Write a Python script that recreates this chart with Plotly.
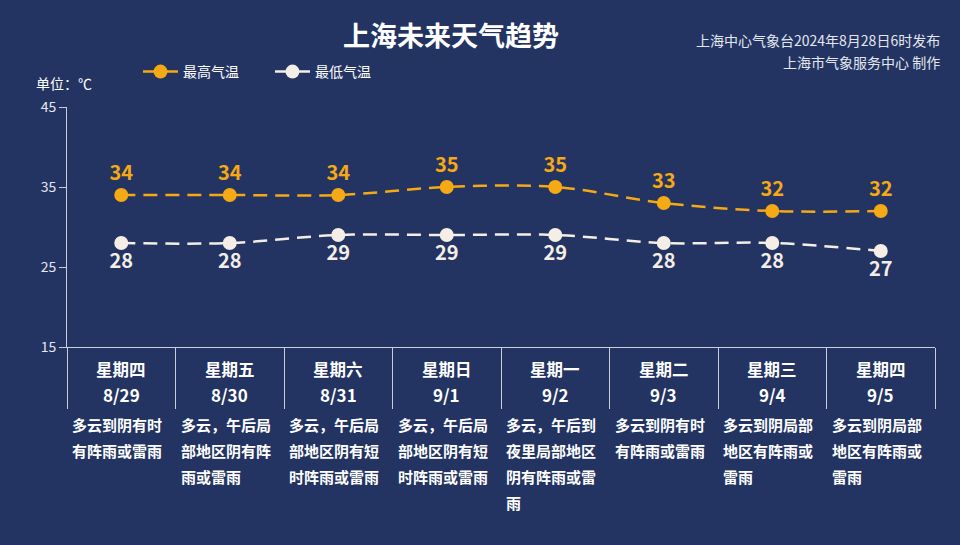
import plotly.graph_objects as go

# forecast data
days = ["星期四", "星期五", "星期六", "星期日", "星期一", "星期二", "星期三", "星期四"]
dates = ["8/29", "8/30", "8/31", "9/1", "9/2", "9/3", "9/4", "9/5"]
high_temp = [34, 34, 34, 35, 35, 33, 32, 32]
low_temp = [28, 28, 29, 29, 29, 28, 28, 27]
weather = [
    ["多云到阴有时", "有阵雨或雷雨"],
    ["多云，午后局", "部地区阴有阵", "雨或雷雨"],
    ["多云，午后局", "部地区阴有短", "时阵雨或雷雨"],
    ["多云，午后局", "部地区阴有短", "时阵雨或雷雨"],
    ["多云，午后到", "夜里局部地区", "阴有阵雨或雷", "雨"],
    ["多云到阴有时", "有阵雨或雷雨"],
    ["多云到阴局部", "地区有阵雨或", "雷雨"],
    ["多云到阴局部", "地区有阵雨或", "雷雨"],
]
y_ticks = [15, 25, 35, 45]

BG = "#233462"
ORANGE = "#F5A914"
WHITE = "#F4EEE6"
AXIS = "#C9CEDB"
FONT = "Noto Sans CJK SC"

x = list(range(len(days)))

fig = go.Figure()
fig.add_trace(
    go.Scatter(
        x=x,
        y=high_temp,
        name="最高气温",
        mode="lines+markers+text",
        line=dict(color=ORANGE, width=2.5, dash="14px,8px", shape="spline"),
        marker=dict(size=14, color=ORANGE),
        text=[str(v) for v in high_temp],
        textposition="top center",
        textfont=dict(family=FONT, size=20, color=ORANGE, weight="bold"),
    )
)
fig.add_trace(
    go.Scatter(
        x=x,
        y=low_temp,
        name="最低气温",
        mode="lines+markers+text",
        line=dict(color=WHITE, width=2.5, dash="14px,8px", shape="spline"),
        marker=dict(size=14, color=WHITE),
        text=[str(v) for v in low_temp],
        textposition="bottom center",
        textfont=dict(family=FONT, size=20, color=WHITE, weight="bold"),
    )
)

# plot area runs from y=107px to y=347px (240px high), x from 67px to 935px
def py(pixel):
    return (347 - pixel) / 240

def px_(pixel):
    return (pixel - 67) / 868

annotations = []
for i in x:
    annotations.append(dict(x=i, y=py(369), xref="x", yref="paper", text=days[i],
                            showarrow=False, yanchor="middle",
                            font=dict(family=FONT, size=16.5, color="white", weight="bold")))
    annotations.append(dict(x=i, y=py(394), xref="x", yref="paper", text=dates[i],
                            showarrow=False, yanchor="middle",
                            font=dict(family=FONT, size=17, color="white", weight="bold")))
    for j, line in enumerate(weather[i]):
        annotations.append(dict(x=i - 0.5, y=py(424 + 26 * j), xref="x", yref="paper",
                                text=line, showarrow=False, xanchor="left", xshift=3,
                                yanchor="middle",
                                font=dict(family=FONT, size=15, color="white", weight="bold")))

# top notes
annotations.append(dict(x=px_(942), y=py(40), xref="paper", yref="paper",
                        text="上海中心气象台2024年8月28日6时发布",
                        showarrow=False, xanchor="right", yanchor="middle",
                        font=dict(family=FONT, size=14, color="#E4E7EF")))
annotations.append(dict(x=px_(942), y=py(62), xref="paper", yref="paper",
                        text="上海市气象服务中心 制作",
                        showarrow=False, xanchor="right", yanchor="middle",
                        font=dict(family=FONT, size=14, color="#E4E7EF")))
annotations.append(dict(x=px_(34), y=py(83), xref="paper", yref="paper", text="单位：℃",
                        showarrow=False, xanchor="left", yanchor="middle",
                        font=dict(family=FONT, size=14, color="white")))

fig.update_layout(
    width=960,
    height=545,
    paper_bgcolor=BG,
    plot_bgcolor=BG,
    margin=dict(l=67, r=25, t=107, b=198),
    title=dict(text="<b>上海未来天气趋势</b>", x=451 / 960, xanchor="center",
               y=1 - 37 / 545, yanchor="middle",
               font=dict(family=FONT, size=27, color="white")),
    legend=dict(orientation="h", x=px_(138), y=py(72), xanchor="left", yanchor="middle",
                font=dict(family=FONT, size=14, color="white"), bgcolor="rgba(0,0,0,0)",
                entrywidth=82, itemwidth=35),
    showlegend=True,
    annotations=annotations,
    font=dict(family=FONT, color="white"),
)
fig.update_xaxes(
    range=[-0.5, 7.5],
    showgrid=False,
    zeroline=False,
    showline=True,
    linecolor=AXIS,
    linewidth=1,
    tickmode="array",
    tickvals=[i - 0.5 for i in range(len(days) + 1)],
    ticks="outside",
    ticklen=61,
    tickcolor=AXIS,
    showticklabels=False,
)
fig.update_yaxes(
    range=[15, 45],
    tickvals=y_ticks,
    showgrid=False,
    zeroline=False,
    showline=True,
    linecolor=AXIS,
    linewidth=1,
    ticks="outside",
    ticklen=7,
    tickcolor=AXIS,
    tickfont=dict(family=FONT, size=14, color="#E4E7EF"),
)

fig.write_html("out.html", config={"displayModeBar": False},
               post_script="document.body.style.margin='0px';")
